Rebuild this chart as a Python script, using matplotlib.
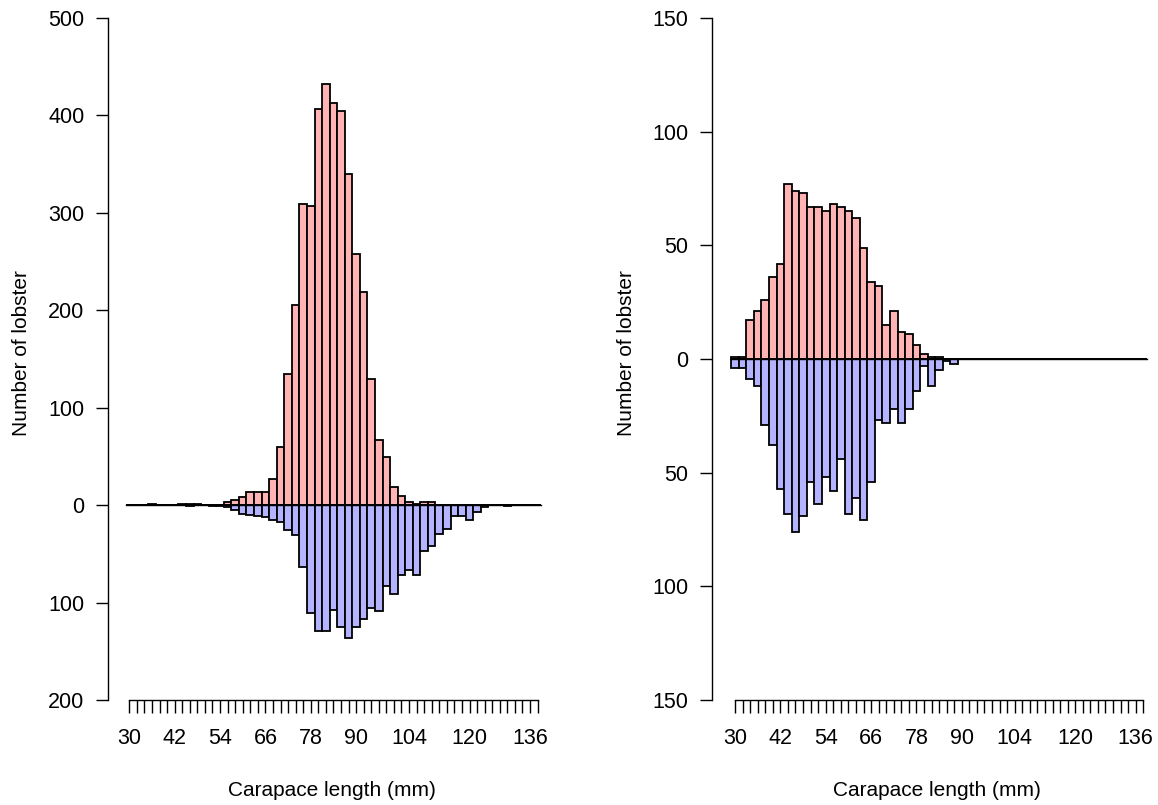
import matplotlib
matplotlib.use("Agg")
import matplotlib.pyplot as plt
import numpy as np

plt.rcParams['font.family'] = ['Liberation Sans', 'DejaVu Sans']

# 2 mm carapace length classes, 30 .. 138 mm
lengths = np.arange(30, 140, 2)
shown_labels = [30, 42, 54, 66, 78, 90, 104, 120, 136]

# left panel counts (upper = red, lower = blue)
left_up = [0, 0, 0, 1, 0, 0, 0, 1, 1, 1,
           0, 0, 0, 3, 5, 8, 14, 13, 13, 27,
           60, 135, 205, 309, 307, 407, 432, 413, 405, 340,
           258, 219, 129, 67, 49, 19, 9, 3, 1, 3,
           3, 0, 0, 0, 0, 0, 0, 0, 0, 0,
           0, 0, 0, 0, 0]
left_down = [0, 0, 0, 0, 0, 0, 0, 0, 1, 0,
             0, 1, 1, 2, 5, 9, 10, 11, 12, 15,
             17, 25, 31, 63, 111, 129, 129, 108, 125, 136,
             125, 117, 106, 109, 83, 91, 72, 67, 72, 47,
             42, 30, 24, 11, 11, 15, 7, 2, 0, 0,
             1, 0, 0, 0, 0]

# right panel counts
right_up = [1, 1, 17, 21, 26, 36, 42, 77, 74, 73,
            67, 67, 65, 68, 67, 65, 62, 49, 34, 32,
            15, 21, 12, 11, 6, 2, 1, 1, 0, 0,
            0, 0, 0, 0, 0, 0, 0, 0, 0, 0,
            0, 0, 0, 0, 0, 0, 0, 0, 0, 0,
            0, 0, 0, 0, 0]
right_down = [4, 4, 9, 12, 29, 38, 57, 68, 76, 69,
              54, 64, 52, 58, 44, 68, 61, 71, 54, 27,
              28, 22, 28, 22, 14, 3, 12, 5, 1, 2,
              0, 0, 0, 0, 0, 0, 0, 0, 0, 0,
              0, 0, 0, 0, 0, 0, 0, 0, 0, 0,
              0, 0, 0, 0, 0]

left_yticks = [-200, -100, 0, 100, 200, 300, 400, 500]
right_yticks = [-150, -100, -50, 0, 50, 100, 150]

W, H = 1158, 805
fig = plt.figure(figsize=(W / 100, H / 100), dpi=100)

red = '#FFB3B3'
blue = '#B3B3FF'
fs = 15.5


def panel(left_px, first_tick_px, up, down, yticks):
    px_per_mm = 3.78
    right_px = left_px + 450
    x0 = 30 - (first_tick_px - left_px) / px_per_mm
    x1 = 30 + (right_px - first_tick_px) / px_per_mm
    ax = fig.add_axes([left_px / W, (H - 700) / H, (right_px - left_px) / W, 682 / H])
    ax.bar(lengths, up, width=2, color=red, edgecolor='black', linewidth=1.3)
    ax.bar(lengths, -np.array(down), width=2, color=blue, edgecolor='black', linewidth=1.3)
    ax.plot([lengths[0] - 1, lengths[-1] + 1], [0, 0], color='black', linewidth=1.0)
    ax.set_xlim(x0, x1)
    ax.set_ylim(yticks[0], yticks[-1])
    for s in ['top', 'right']:
        ax.spines[s].set_visible(False)
    ax.spines['bottom'].set_bounds(lengths[0], lengths[-1])
    ax.spines['bottom'].set_linewidth(1.0)
    ax.spines['left'].set_linewidth(1.0)
    ax.set_xticks(lengths)
    ax.set_xticklabels([str(v) if v in shown_labels else '' for v in lengths], fontsize=fs)
    ax.set_yticks(yticks)
    ax.set_yticklabels([str(abs(v)) for v in yticks], fontsize=fs)
    ax.tick_params(axis='x', length=9.5, width=1.0, pad=11)
    ax.tick_params(axis='y', length=9, width=1.0, pad=8)
    return ax


panel(108, 129.3, left_up, left_down, left_yticks)
panel(712, 735, right_up, right_down, right_yticks)

for xl, xc in [(22, 332), (627, 937)]:
    fig.text(xl / W, 1 - 353 / H, 'Number of lobster', rotation=90,
             ha='center', va='center', fontsize=15)
    fig.text(xc / W, 1 - 790 / H, 'Carapace length (mm)',
             ha='center', va='center', fontsize=15)

fig.savefig('out.png', dpi=100)
